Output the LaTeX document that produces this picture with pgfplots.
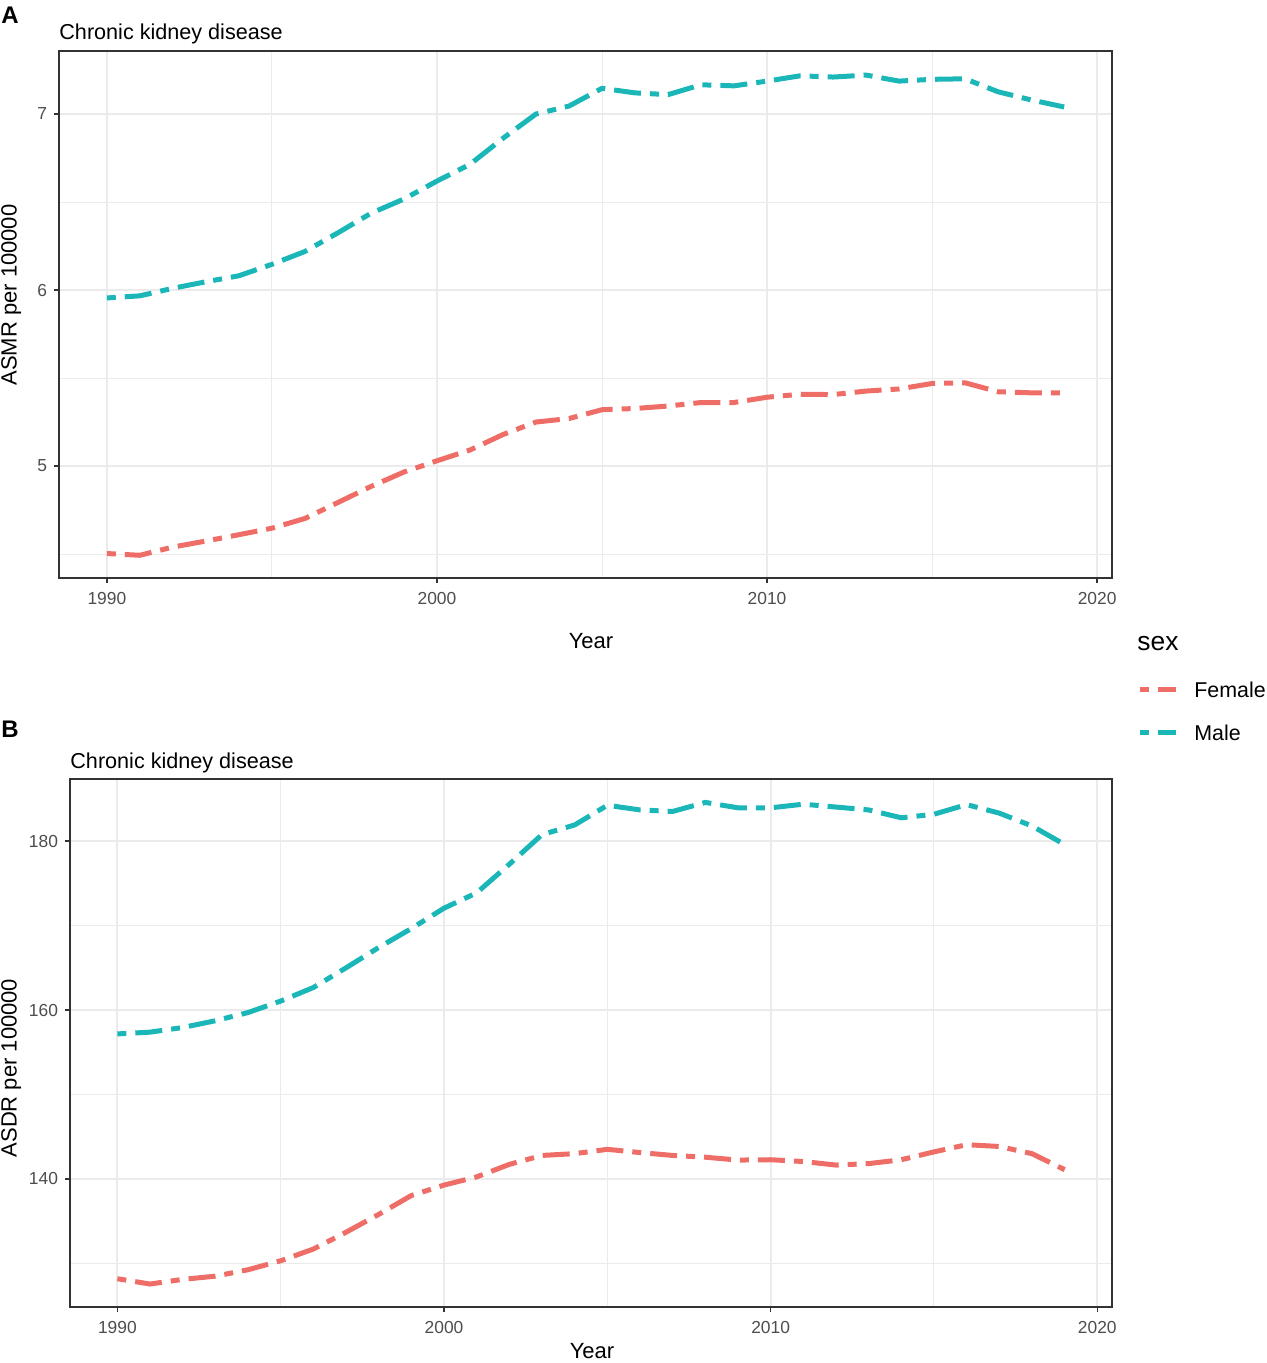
\documentclass[border=0pt]{standalone}
\usepackage{fontspec}
\setmainfont{Liberation Sans}
\usepackage{pgfplots}
\usepackage{pgfplotstable}
\pgfplotsset{compat=1.18}
\definecolor{femc}{HTML}{EE6E67}
\definecolor{malec}{HTML}{1BB7B8}
\definecolor{grey20}{HTML}{333333}
\definecolor{grey30}{HTML}{4D4D4D}
\definecolor{grey92}{HTML}{EBEBEB}

\pgfplotstableread{
year femA maleA
1990 4.503 5.955
1991 4.493 5.967
1992 4.540 6.010
1993 4.574 6.047
1994 4.610 6.081
1995 4.647 6.146
1996 4.702 6.219
1997 4.793 6.325
1998 4.884 6.436
1999 4.966 6.517
2000 5.030 6.619
2001 5.091 6.714
2002 5.179 6.862
2003 5.250 7.000
2004 5.270 7.045
2005 5.320 7.146
2006 5.327 7.120
2007 5.341 7.110
2008 5.361 7.166
2009 5.361 7.160
2010 5.391 7.187
2011 5.408 7.217
2012 5.406 7.210
2013 5.426 7.221
2014 5.438 7.187
2015 5.469 7.197
2016 5.473 7.200
2017 5.422 7.126
2018 5.416 7.080
2019 5.416 7.040
}\tabA

\pgfplotstableread{
year femB maleB
1990 128.20 157.17
1991 127.57 157.38
1992 128.12 157.93
1993 128.50 158.73
1994 129.26 159.70
1995 130.32 161.06
1996 131.71 162.66
1997 133.70 164.99
1998 135.81 167.40
1999 138.05 169.64
2000 139.28 172.05
2001 140.25 173.87
2002 141.73 177.25
2003 142.79 180.76
2004 143.00 181.90
2005 143.51 184.23
2006 143.13 183.68
2007 142.79 183.50
2008 142.58 184.57
2009 142.24 183.93
2010 142.28 183.93
2011 142.07 184.36
2012 141.65 184.02
2013 141.82 183.68
2014 142.28 182.75
2015 143.21 183.17
2016 144.06 184.31
2017 143.85 183.30
2018 143.00 181.78
2019 141.10 179.58
}\tabB

\pgfplotsset{
  ggstyle/.style={
    scale only axis,
    axis line style={draw=grey20, line width=0.7pt},
    tick align=outside,
    major tick length=2.5pt,
    minor tick length=0pt,
    tick style={grey20, line width=0.7pt},
    xtick pos=left, ytick pos=left,
    xmin=1988.55, xmax=2020.45,
    xtick={1990,2000,2010,2020},
    minor xtick={1995,2005,2015},
    grid=both,
    major grid style={grey92, line width=1pt},
    minor grid style={grey92, line width=0.5pt},
    tick label style={font=\fontsize{8.7}{10}\selectfont, text=grey30},
    /pgf/number format/assume math mode=true,
    xticklabel style={/pgf/number format/1000 sep={}, yshift=-1.2pt},
    yticklabel style={/pgf/number format/1000 sep={}},
  },
  ggline/.style={line width=2.5pt, line cap=butt, line join=round,
    dash pattern=on 4.5pt off 4.5pt on 13.5pt off 4.5pt, no marks},
}

\begin{document}
\begin{tikzpicture}
\useasboundingbox (0,0) rectangle (633pt,-681.5pt);

% Panel A
\begin{axis}[ggstyle,
  at={(29.5pt,-289pt)}, anchor=south west,
  width=526.5pt, height=263.5pt,
  ymin=4.364, ymax=7.358,
  ytick={5,6,7}, minor ytick={4.5,5.5,6.5},
]
\addplot[ggline, femc] table[x=year, y=femA] {\tabA};
\addplot[ggline, malec] table[x=year, y=maleA] {\tabA};
\end{axis}

% Panel B
\begin{axis}[ggstyle,
  at={(35pt,-653.5pt)}, anchor=south west,
  width=521pt, height=264pt,
  ymin=124.85, ymax=187.34,
  ytick={140,160,180}, minor ytick={130,150,170},
]
\addplot[ggline, femc] table[x=year, y=femB] {\tabB};
\addplot[ggline, malec] table[x=year, y=maleB] {\tabB};
\end{axis}

% panel tags and titles
\node[anchor=base west, inner sep=0pt, font=\fontsize{12}{14}\selectfont\bfseries] at (0.5pt,-12pt) {A};
\node[anchor=base west, inner sep=0pt, font=\fontsize{12}{14}\selectfont\bfseries] at (0.5pt,-368.5pt) {B};
\node[anchor=base west, inner sep=0pt, font=\fontsize{10.8}{13}\selectfont] at (29.5pt,-20pt) {Chronic kidney disease};
\node[anchor=base west, inner sep=0pt, font=\fontsize{10.8}{13}\selectfont] at (35pt,-384pt) {Chronic kidney disease};

% axis titles
\node[anchor=base, inner sep=0pt, font=\fontsize{11}{13}\selectfont] at (295.5pt,-324pt) {Year};
\node[anchor=base, inner sep=0pt, font=\fontsize{11}{13}\selectfont] at (296pt,-679.3pt) {Year};
\node[rotate=90, inner sep=0pt, font=\fontsize{11}{13}\selectfont] at (5.6pt,-147.5pt) {ASMR per 100000};
\node[rotate=90, inner sep=0pt, font=\fontsize{11}{13}\selectfont] at (5.6pt,-534pt) {ASDR per 100000};

% legend
\node[anchor=base west, inner sep=0pt, font=\fontsize{13.2}{15}\selectfont] at (568.5pt,-325pt) {sex};
\draw[femc, line width=2.5pt, line cap=butt, dash pattern=on 4.5pt off 4.5pt on 13.5pt off 4.5pt] (570pt,-344.5pt) -- (588pt,-344.5pt);
\draw[malec, line width=2.5pt, line cap=butt, dash pattern=on 4.5pt off 4.5pt on 13.5pt off 4.5pt] (570pt,-366pt) -- (588pt,-366pt);
\node[anchor=base west, inner sep=0pt, font=\fontsize{10.7}{13}\selectfont] at (597pt,-348.5pt) {Female};
\node[anchor=base west, inner sep=0pt, font=\fontsize{10.7}{13}\selectfont] at (597pt,-370pt) {Male};
\end{tikzpicture}
\end{document}
